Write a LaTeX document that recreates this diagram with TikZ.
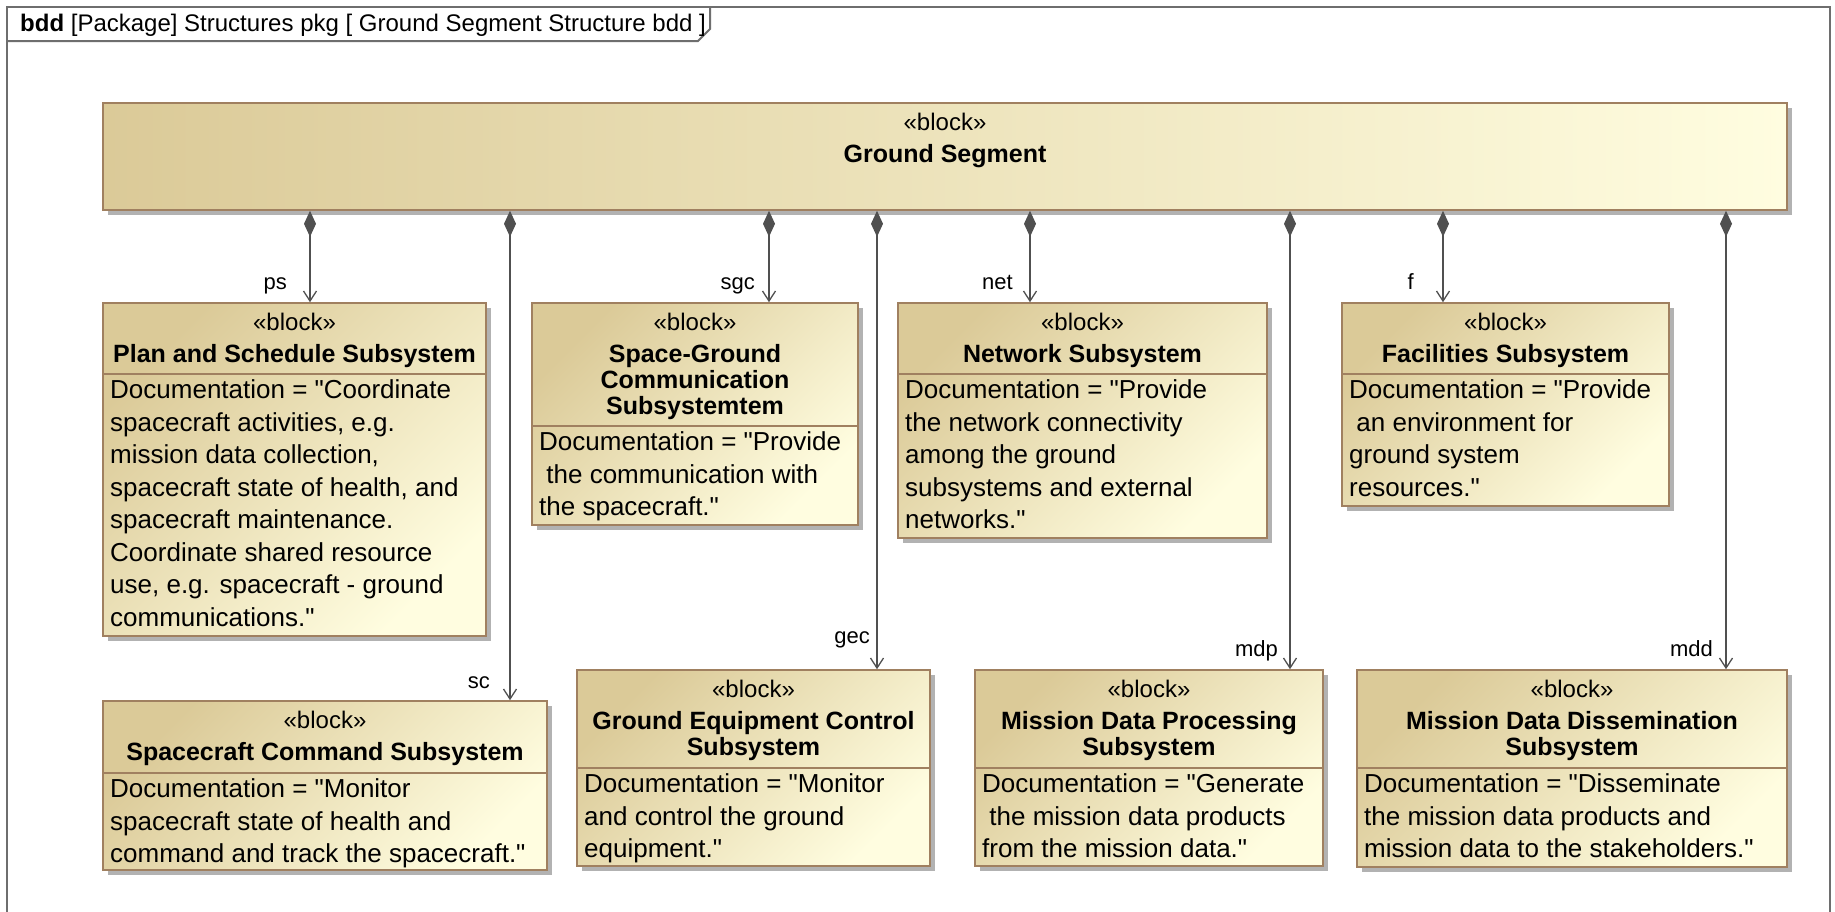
\documentclass[tikz,border=0pt]{standalone}
\usepackage{fontspec}
\setmainfont{Liberation Sans}[Ligatures=TeXOff]
\usetikzlibrary{arrows.meta,shadows,fit}

\definecolor{blkTan}{RGB}{219,202,152}
\definecolor{blkPale}{RGB}{255,253,224}
\definecolor{blkEdge}{RGB}{160,128,96}
\definecolor{wire}{RGB}{80,80,80}
\definecolor{frameGray}{RGB}{110,110,110}

\newcommand{\fDoc}{\fontsize{26}{32.5}\selectfont}
\newcommand{\fTitle}{\fontsize{25}{26}\selectfont\bfseries}
\newcommand{\fStereo}{\fontsize{24}{28}\selectfont}
\newcommand{\fRole}{\fontsize{22}{26}\selectfont}

\tikzset{
  blkbase/.style={draw=blkEdge, line width=1.6pt, inner sep=0pt,
    drop shadow={shadow xshift=5pt, shadow yshift=-5pt, fill=black, opacity=0.3}},
  blkbox/.style={blkbase, top color=blkTan, bottom color=blkPale, shading angle=45},
  gsbox/.style={blkbase, left color=blkTan, right color=blkPale},
  divider/.style={draw=blkEdge, line width=1.6pt},
  stereo/.style={font=\fStereo, inner sep=0pt, anchor=base},
  btitle/.style={font=\fTitle, inner sep=0pt, align=center, anchor=north},
  doctext/.style={font=\fDoc, inner sep=0pt, align=left, anchor=north west},
  role/.style={font=\fRole, inner sep=0pt, anchor=base east},
  comp/.style={draw=wire, line width=1.3pt,
    {Diamond[length=26pt,width=12pt,fill=wire]}-{Straight Barb[length=10pt,width=13pt]}},
  frameline/.style={draw=frameGray, line width=2pt},
}

% block with a name compartment and a documentation compartment
% #1 name, #2 x1, #3 y1, #4 x2, #5 y2, #6 divider y, #7 title, #8 documentation
\newcommand{\umlblk}[8]{%
  \node[blkbox, fit={(#2,#3) (#4,#5)}] (#1) {};
  \draw[divider] (#2,#6) -- (#4,#6);
  \node[stereo] (#1-st) at ({(#2+#4)/2},{#3+27.5}) {«block»};
  \node[btitle] (#1-ti) at ({(#2+#4)/2},{#3+40.8}) {\strut #7};
  \node[doctext] (#1-doc) at ({#2+7},{#6+2}) {\strut #8};
}

\begin{document}
\begin{tikzpicture}[x=1pt,y=-1pt]
\useasboundingbox (0,0) rectangle (1835,911);
\fill[white] (0,0) rectangle (1835,911);

% diagram frame and its heading tab
\draw[frameline] (7,925) -- (7,7) -- (1830,7) -- (1830,925);
\draw[frameline] (7,41) -- (698,41) -- (710,29) -- (710,7);
\node[font=\fontsize{24}{28}\selectfont, inner sep=0pt, anchor=base west] (hdr) at (20,31)
  {\textbf{bdd} [Package] Structures pkg [ Ground Segment Structure bdd ]};

% whole ground segment
\node[gsbox, fit={(103,103) (1787,210)}] (gs) {};
\node[stereo] (gs-st) at (945,130) {«block»};
\node[font=\fTitle, inner sep=0pt, anchor=base] (gs-ti) at (945,162) {Ground Segment};

% parts
\umlblk{ps}{103}{303}{486}{636}{374}{Plan and Schedule Subsystem}
  {Documentation = "Coordinate\\spacecraft activities, e.g.\\mission data collection,\\spacecraft state of health, and\\spacecraft maintenance.\\Coordinate shared resource\\use, e.g. spacecraft - ground\\communications."}
\umlblk{sgc}{532}{303}{858}{525}{426}{Space-Ground\\Communication\\Subsystemtem}
  {Documentation = "Provide\\\ the communication with\\the spacecraft."}
\umlblk{net}{898}{303}{1267}{538}{374}{Network Subsystem}
  {Documentation = "Provide\\the network connectivity\\among the ground\\subsystems and external\\networks."}
\umlblk{f}{1342}{303}{1669}{506}{374}{Facilities Subsystem}
  {Documentation = "Provide\\\ an environment for\\ground system\\resources."}
\umlblk{sc}{103}{701}{547}{870}{773}{Spacecraft Command Subsystem}
  {Documentation = "Monitor\\spacecraft state of health and\\command and track the spacecraft."}
\umlblk{gec}{577}{670}{930}{866}{768}{Ground Equipment Control\\Subsystem}
  {Documentation = "Monitor\\and control the ground\\equipment."}
\umlblk{mdp}{975}{670}{1323}{866}{768}{Mission Data Processing\\Subsystem}
  {Documentation = "Generate\\\ the mission data products\\from the mission data."}
\umlblk{mdd}{1357}{670}{1787}{867}{768}{Mission Data Dissemination\\Subsystem}
  {Documentation = "Disseminate\\the mission data products and\\mission data to the stakeholders."}

% x positions of the composition connectors
\coordinate (xps) at (310,0);
\coordinate (xsc) at (510,0);
\coordinate (xsgc) at (769,0);
\coordinate (xgec) at (877,0);
\coordinate (xnet) at (1030,0);
\coordinate (xmdp) at (1290,0);
\coordinate (xf) at (1443,0);
\coordinate (xmdd) at (1726,0);

\foreach \p in {ps,sc,sgc,gec,net,mdp,f,mdd}
  \draw[comp] (gs.south -| x\p) -- (\p.north -| x\p);

% role names
\node[role] (r-ps) at (287,289.5) {ps};
\node[role] (r-sgc) at (755,289.5) {sgc};
\node[role] (r-net) at (1013,289.5) {net};
\node[role] (r-f) at (1414,289.5) {f};
\node[role] (r-sc) at (490,688) {sc};
\node[role] (r-gec) at (870,643.5) {gec};
\node[role] (r-mdp) at (1278,656.5) {mdp};
\node[role] (r-mdd) at (1713,656.5) {mdd};
\end{tikzpicture}
\end{document}
